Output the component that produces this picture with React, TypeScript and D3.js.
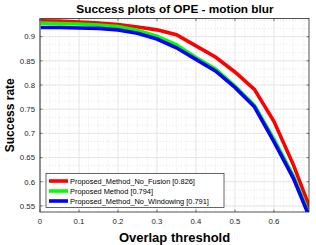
import React from "react";
import * as d3 from "d3";

const thresholds = [0, 0.05, 0.1, 0.15, 0.2, 0.25, 0.3, 0.35, 0.4, 0.45, 0.5, 0.55, 0.6, 0.65, 0.7];
const noFusion = [0.933, 0.932, 0.93, 0.928, 0.925, 0.92, 0.914, 0.904, 0.881, 0.858, 0.827, 0.791, 0.725, 0.635, 0.53];
const proposed = [0.928, 0.927, 0.926, 0.924, 0.921, 0.913, 0.901, 0.883, 0.857, 0.833, 0.798, 0.758, 0.688, 0.612, 0.515];
const noWindowing = [0.919, 0.919, 0.918, 0.917, 0.914, 0.907, 0.895, 0.877, 0.853, 0.829, 0.795, 0.755, 0.683, 0.607, 0.51];

const seriesNames = [
  "Proposed_Method_No_Fusion [0.826]",
  "Proposed Method [0.794]",
  "Proposed_Method_No_Windowing [0.791]",
];
const seriesColors = ["#ff0000", "#00ff00", "#0000ff"];
const xTicks = [0, 0.1, 0.2, 0.3, 0.4, 0.5, 0.6];
const yTicks = [0.55, 0.6, 0.65, 0.7, 0.75, 0.8, 0.85, 0.9];

const W = 316;
const H = 245;
const margin = { top: 18.5, right: 7, bottom: 33, left: 40 };
const font = "'Liberation Sans', Arial, sans-serif";

const App = () => {
  const iw = W - margin.left - margin.right;
  const ih = H - margin.top - margin.bottom;

  const x = d3.scaleLinear().domain([0, 0.69]).range([0, iw]);
  const y = d3.scaleLinear().domain([0.5375, 0.9375]).range([ih, 0]);

  const minorX = d3.range(0, 0.69, 0.025);
  const minorY = d3.range(0.5, 0.95, 0.05 / 3);

  const line = d3
    .line<number>()
    .x((d, i) => x(thresholds[i]))
    .y((d) => y(d));

  const series = [noFusion, proposed, noWindowing];

  return (
    <svg
      width={W}
      height={H}
      style={{ position: "absolute", left: 0, top: 0, background: "#fff" }}
      fontFamily={font}
    >
      <rect width={W} height={H} fill="#fff" />
      <text x={175} y={13} textAnchor="middle" fontSize={11.8} fontWeight="bold" fill="#000">
        Success plots of OPE - motion blur
      </text>
      <g transform={`translate(${margin.left},${margin.top})`}>
        <defs>
          <clipPath id="plot">
            <rect width={iw} height={ih} />
          </clipPath>
        </defs>
        {minorX.map((v, i) => (
          <line key={"mx" + i} x1={x(v)} x2={x(v)} y1={0} y2={ih} stroke="#d4d4d4" strokeWidth={0.6} strokeDasharray="1,2" />
        ))}
        {minorY
          .filter((v) => y(v) > 0 && y(v) < ih)
          .map((v, i) => (
            <line key={"my" + i} x1={0} x2={iw} y1={y(v)} y2={y(v)} stroke="#d4d4d4" strokeWidth={0.6} strokeDasharray="1,2" />
          ))}
        {xTicks.map((v) => (
          <line key={"gx" + v} x1={x(v)} x2={x(v)} y1={0} y2={ih} stroke="#e3e3e3" strokeWidth={0.8} />
        ))}
        {yTicks.map((v) => (
          <line key={"gy" + v} x1={0} x2={iw} y1={y(v)} y2={y(v)} stroke="#e3e3e3" strokeWidth={0.8} />
        ))}
        <g clipPath="url(#plot)">
          {series.map((s, k) => (
            <path key={k} d={line(s) || ""} fill="none" stroke={seriesColors[k]} strokeWidth={3.6} strokeLinejoin="miter" />
          ))}
        </g>
        <rect width={iw} height={ih} fill="none" stroke="#262626" strokeWidth={0.8} />
        <line x1={0} x2={0} y1={0} y2={ih} stroke="#888" strokeWidth={1.5} />
        {xTicks.map((v) => (
          <g key={"tx" + v}>
            <line x1={x(v)} x2={x(v)} y1={ih} y2={ih - 2.5} stroke="#262626" strokeWidth={0.6} />
            <line x1={x(v)} x2={x(v)} y1={0} y2={2.5} stroke="#262626" strokeWidth={0.6} />
            <text x={x(v)} y={ih + 12} textAnchor="middle" fontSize={7.8} fill="#262626">
              {v === 0 ? "0" : d3.format(".1f")(v)}
            </text>
          </g>
        ))}
        {yTicks.map((v) => (
          <g key={"ty" + v}>
            <line x1={0} x2={2.5} y1={y(v)} y2={y(v)} stroke="#262626" strokeWidth={0.6} />
            <line x1={iw} x2={iw - 2.5} y1={y(v)} y2={y(v)} stroke="#262626" strokeWidth={0.6} />
            <text x={-5} y={y(v) + 2.8} textAnchor="end" fontSize={7.8} fill="#262626">
              {d3.format(".2~f")(v)}
            </text>
          </g>
        ))}
        <text x={iw / 2} y={ih + 30} textAnchor="middle" fontSize={13} fontWeight="bold" fill="#000">
          Overlap threshold
        </text>
        <text
          transform={`translate(-26,${ih / 2}) rotate(-90)`}
          textAnchor="middle"
          fontSize={12}
          fontWeight="bold"
          fill="#000"
        >
          Success rate
        </text>
        <g transform="translate(6,155)">
          <rect width={178} height={34} fill="#fff" stroke="#262626" strokeWidth={0.7} />
          {seriesNames.map((name, k) => (
            <g key={name} transform={`translate(0,${7.5 + k * 10})`}>
              <line x1={3} x2={22} y1={0} y2={0} stroke={seriesColors[k]} strokeWidth={3.6} />
              <text x={24} y={2.6} fontSize={7.4} fill="#000">
                {name}
              </text>
            </g>
          ))}
        </g>
      </g>
    </svg>
  );
};

export default App;
